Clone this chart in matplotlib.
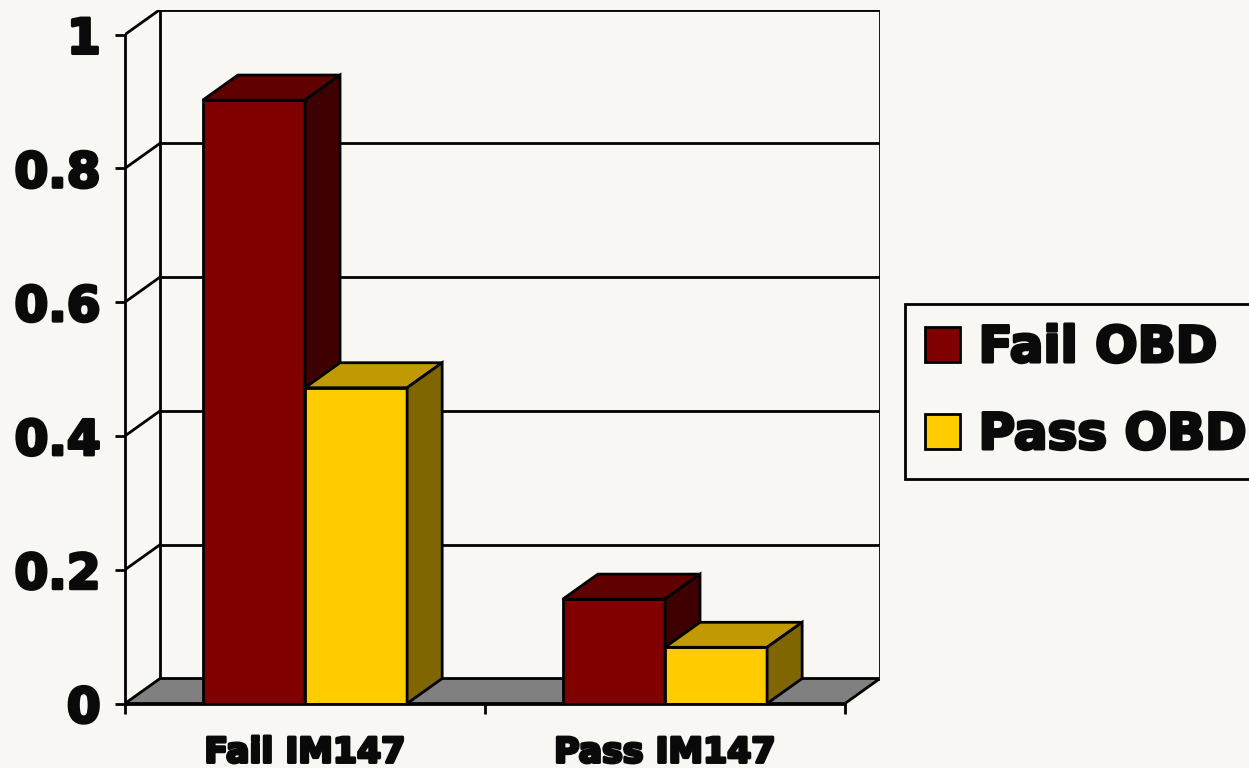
import matplotlib
matplotlib.use('Agg')
import matplotlib.pyplot as plt
import matplotlib.patheffects as pe
from matplotlib.patches import Polygon, Patch

# data
categories = ['Fail IM147', 'Pass IM147']
series = ['Fail OBD', 'Pass OBD']
fail_obd = [0.902, 0.156]
pass_obd = [0.472, 0.084]
y_ticks = [0, 0.2, 0.4, 0.6, 0.8, 1]
y_labels = ['0', '0.2', '0.4', '0.6', '0.8', '1']

front_cols = ['#800000', '#FFCC00']
top_cols = ['#600000', '#C09A00']
side_cols = ['#3E0000', '#806600']
bg = '#F8F7F3'
lw = 2.0

W, H = 1249, 768
fig = plt.figure(figsize=(W / 100, H / 100), dpi=100, facecolor=bg)

# front plane x: 0..2 (125..844 px), depth offset dx, dy
dx = 35 / 359.5
dy = 25 / 669
ax = fig.add_axes([125 / W, (H - 703.5) / H, (880 - 125) / W, (703.5 - 9.5) / H])
ax.set_xlim(0, 2 + dx)
ax.set_ylim(0, 1 + dy)
ax.set_facecolor('none')

# back wall, side wall and gridlines
for v in y_ticks[1:]:
    ax.plot([dx, 2 + dx], [v + dy, v + dy], color='black', lw=lw, zorder=1)
    ax.plot([0, dx], [v, v + dy], color='black', lw=lw, zorder=1)
ax.plot([dx, dx], [dy, 1 + dy], color='black', lw=lw, zorder=1)
ax.plot([2 + dx, 2 + dx], [dy, 1 + dy], color='black', lw=lw, zorder=1)

# floor
ax.add_patch(Polygon([(0, 0), (2, 0), (2 + dx, dy), (dx, dy)], closed=True,
                     facecolor='#808080', edgecolor='black', lw=lw, zorder=2))

# bars
w = 0.2837
vals = [fail_obd, pass_obd]
for ci in range(len(categories)):
    center = ci + 0.5
    for si in range(len(series)):
        x0 = center - w + si * w
        v = vals[si][ci]
        z = 3 + si
        ax.bar(x0, v, w, align='edge', color=front_cols[si], edgecolor='black',
               lw=lw, zorder=z)
        ax.add_patch(Polygon([(x0, v), (x0 + w, v), (x0 + w + dx, v + dy), (x0 + dx, v + dy)],
                             closed=True, facecolor=top_cols[si], edgecolor='black',
                             lw=lw, zorder=z))
        ax.add_patch(Polygon([(x0 + w, 0), (x0 + w, v), (x0 + w + dx, v + dy), (x0 + w + dx, dy)],
                             closed=True, facecolor=side_cols[si], edgecolor='black',
                             lw=lw, zorder=z))

# axes
for s in ['top', 'right']:
    ax.spines[s].set_visible(False)
for s in ['left', 'bottom']:
    ax.spines[s].set_linewidth(lw)
    ax.spines[s].set_zorder(6)
ax.spines['left'].set_bounds(0, 1)
ax.spines['bottom'].set_bounds(0, 2)

# heavy look (Arial Black-like): bold font plus a thin stroke
heavy = [pe.withStroke(linewidth=2.2, foreground='#0A0A0A')]
fam = 'DejaVu Sans'
ax.set_yticks(y_ticks)
ax.set_yticklabels(y_labels, fontsize=35, family=fam, weight='bold', color='#0A0A0A')
ax.tick_params(axis='y', direction='out', length=7.5, width=lw, pad=10)
ax.set_xticks([0, 1, 2])
ax.set_xticklabels([])
ax.set_xticks([0.5, 1.5], minor=True)
ax.set_xticklabels(categories, minor=True, fontsize=25, family=fam, weight='bold',
                   color='#0A0A0A')
ax.tick_params(axis='x', which='major', direction='out', length=7, width=lw)
ax.tick_params(axis='x', which='minor', length=0, pad=23)
for t in ax.get_yticklabels() + ax.get_xticklabels(minor=True):
    t.set_path_effects(heavy)

handles = [Patch(facecolor=front_cols[i], edgecolor='black', lw=lw) for i in range(2)]
leg = fig.legend(handles, series, loc='upper left',
                 bbox_to_anchor=(905 / W, 1 - 304 / H),
                 prop=dict(family=fam, weight='bold', size=36),
                 frameon=True, fancybox=False, edgecolor='black', facecolor=bg,
                 framealpha=1, handlelength=0.7, handleheight=0.7,
                 handletextpad=0.37, borderpad=0.4, labelspacing=0.78,
                 borderaxespad=0)
leg.get_frame().set_linewidth(lw)
for t in leg.get_texts():
    t.set_color('#0A0A0A')
    t.set_path_effects(heavy)

fig.savefig('out.png', dpi=100, facecolor=bg)
